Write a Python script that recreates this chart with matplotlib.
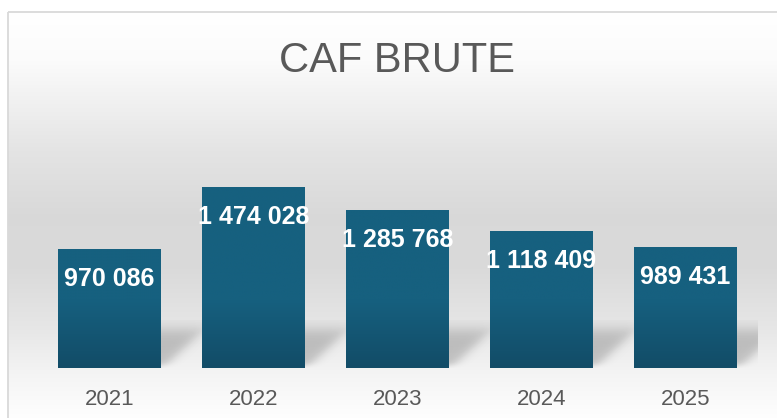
import numpy as np
import matplotlib
matplotlib.use("Agg")
import matplotlib.pyplot as plt
from matplotlib.patches import Rectangle

# data
years = ["2021", "2022", "2023", "2024", "2025"]
caf_brute = [970086, 1474028, 1285768, 1118409, 989431]
title = "CAF BRUTE"

W, H, DPI = 777, 418, 100
Y_MAX = 1_776_000
PX_PER_UNIT = 218 / Y_MAX          # vertical pixels per data unit
BAR_W = 0.715

plt.rcParams["font.family"] = ["Liberation Sans", "DejaVu Sans"]

fig = plt.figure(figsize=(W / DPI, H / DPI), dpi=DPI)
fig.patch.set_facecolor("white")

# background panel with vertical grey gradient and thin border
bg = fig.add_axes([0, 0, 1, 1], zorder=-1)
bg.set_xlim(0, W)
bg.set_ylim(H, 0)
bg.axis("off")
rows = np.arange(12, H + 1)
stops_y = [12, 60, 150, 215, 270, 330, 372, 400, 418]
stops_g = [1.0, 0.985, 0.895, 0.85, 0.855, 0.905, 0.955, 0.98, 0.995]
g = np.interp(rows, stops_y, stops_g)
grad = np.repeat(g[:, None], 2, axis=1)
bg.imshow(np.dstack([grad, grad, grad]), extent=[8, W, H, 12], aspect="auto",
          interpolation="bilinear")
bg.add_patch(Rectangle((8, 12), W + 20, H + 20, fill=False, ec="#d9d9d9", lw=1.3))

fig.text(397 / W, 1 - 61 / H, title, ha="center", va="center",
         fontsize=30, color="#595959")

ax = fig.add_axes([37.5 / W, 50 / H, 720 / W, 218 / H])
ax.patch.set_visible(False)
for s in ax.spines.values():
    s.set_visible(False)
ax.set_yticks([])
x = np.arange(len(years))
ax.set_xticks(x)
ax.set_xticklabels(years, fontsize=16, color="#595959")
ax.tick_params(axis="x", length=0, pad=15)

bars = ax.bar(x, caf_brute, width=BAR_W, color="#16607f", zorder=2)

# gradient inside bars: darker near the baseline
light = np.array([22, 96, 127]) / 255
dark = np.array([18, 76, 103]) / 255
light_from = 68 / PX_PER_UNIT
sig = lambda z: 1 / (1 + np.exp(-z))
for b, v in zip(bars, caf_brute):
    yy = np.linspace(v, 0, 200)
    t = np.clip(yy / light_from, 0, 1)[:, None]
    col = dark + (light - dark) * t
    img = np.repeat(col[:, None, :], 2, axis=1)
    im = ax.imshow(img, extent=[b.get_x(), b.get_x() + b.get_width(), 0, v],
                   aspect="auto", interpolation="bilinear", zorder=2.5)
    im.set_clip_path(b)

    # soft shadow cast behind the bar to the right
    u = np.arange(0, 46)[None, :].astype(float)
    vv = np.arange(0, 48)[::-1][:, None].astype(float)
    alpha = 0.2 * sig((1.05 * vv + 4 - u) / 4) * sig((38 - vv) / 4) * sig((vv - 2) / 1.5)
    sh = np.zeros((48, 46, 4))
    sh[..., 3] = alpha
    xr = b.get_x() + b.get_width()
    ax.imshow(sh, extent=[xr - 2 / 144, xr + 44 / 144, 0, 48 / PX_PER_UNIT],
              aspect="auto", interpolation="bilinear", zorder=1)

    ax.annotate(f"{v:,}".replace(",", " "), (b.get_x() + b.get_width() / 2, v),
                xytext=(0, -21.6), textcoords="offset points", ha="center", va="center",
                fontsize=18, fontweight="bold", color="white", zorder=3)

ax.set_xlim(-0.5, len(years) - 0.5)
ax.set_ylim(0, Y_MAX)

fig.savefig("out.png", dpi=DPI)
